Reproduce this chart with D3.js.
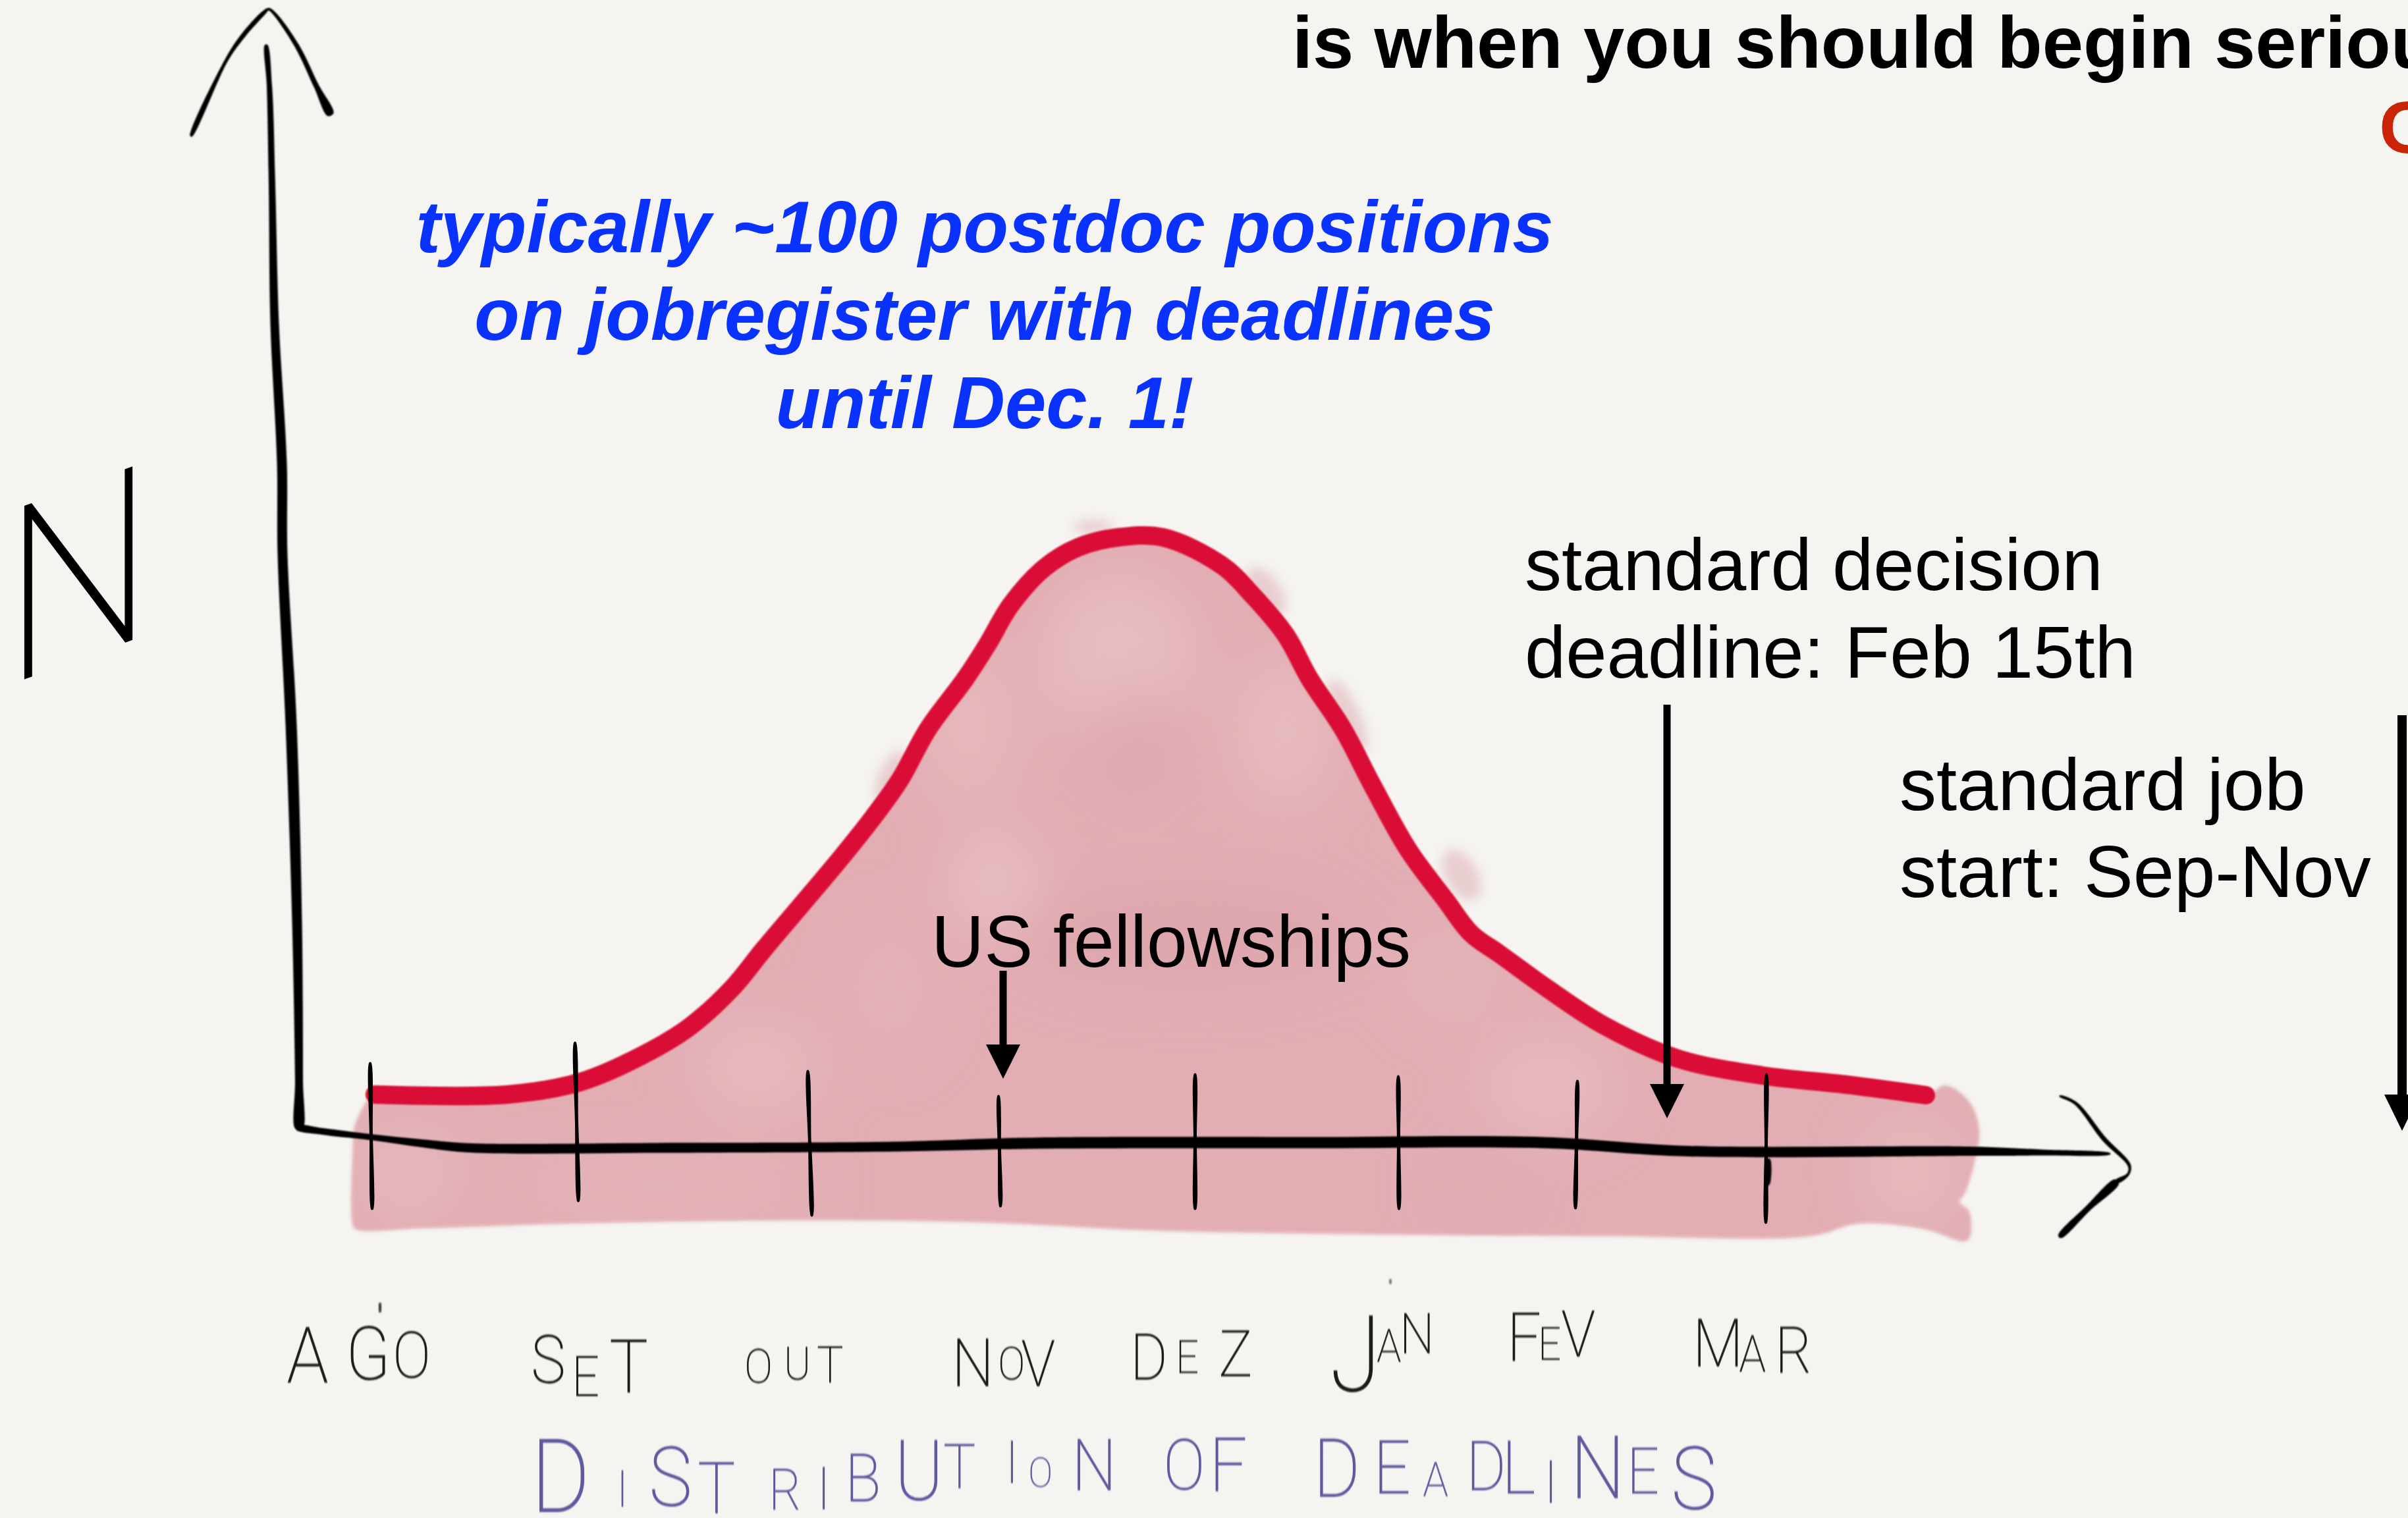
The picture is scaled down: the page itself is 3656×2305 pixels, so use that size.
<!DOCTYPE html>
<html><head><meta charset="utf-8">
<script src="https://cdn.jsdelivr.net/npm/d3@7/dist/d3.min.js"></script>
<style>html,body{margin:0;padding:0;background:#f5f4f0;overflow:hidden}svg{display:block}</style>
</head><body><div id="chart"></div>
<script>
// ---- data (x = months after August, y = N in arbitrary units) ----
const months = ["AGO","SET","OUT","NOV","DEZ","JAN","FEV","MAR"];
const monthPos = [0.01,1.05,2.23,3.19,4.18,5.21,6.11,7.07];
const tickTop = [12.7,15.8,11.5,7.7,11,10.7,10,11];
const tickBottom = [-9.7,-8.5,-10.7,-9.3,-9.7,-9.7,-9.6,-11.8];
const curveX = [0.03,0.70,1.07,1.38,1.62,1.84,2.00,2.38,2.57,2.69,2.83,3.02,3.13,3.25,3.42,3.59,3.79,4.02,4.32,4.47,4.64,4.76,4.93,5.08,5.26,5.45,5.58,5.72,5.96,6.25,6.62,7.05,7.48,7.88];
const curveN = [7.8,7.8,9.7,13.7,18.0,24.0,29.9,43.4,50.6,55.7,63.3,71,76.1,82.2,87.8,90.9,92.4,92.4,88.1,83.7,77.6,71,63.3,54.7,45,37.3,32.2,29.2,24,18.3,13.3,10.7,9.3,7.7];
const washX = [7.98,8.10,8.15,8.13,8.08,8.05,8.10,8.10,8.07,7.88,7.54,7.30,6.25,4.71,3.91,3.17,2.24,1.01,0.27,-0.07,-0.085,-0.08,-0.08,-0.04];
const washN = [9.2,6.7,2.5,-2,-7,-8.5,-10,-14,-14.5,-12.7,-11.8,-13.7,-13.7,-13.3,-12.8,-11.7,-11.3,-11.8,-12.5,-12.6,-11.5,0.7,2,5.3];
const arrowNames = ["US fellowships","standard decision deadline","standard job start"];
const arrowX = [3.21,6.57,10.29];
const arrowFrom = [26.6,67,65.4];
const arrowTo = [10.2,4.2,2.3];
const blueLines = ["typically ~100 postdoc positions","on jobregister with deadlines","until Dec. 1!"];
const decisionLines = ["standard decision","deadline: Feb 15th"];
const jobLines = ["standard job","start: Sep-Nov"];
const fellowshipLabel = "US fellowships";
const headline = "is when you should begin seriously";
const redWord = "O";
const xTitle = "DISTRIBUTION OF DEADLINES";
const yTitle = "N";

// ---- scales ----
const W = 3656, H = 2305;
const x = d3.scaleLinear().domain([0,7]).range([560,2660]);
const y = d3.scaleLinear().domain([0,100]).range([1740,740]);

const svg = d3.select("#chart").append("svg").attr("width",W).attr("height",H).attr("viewBox",`0 0 ${W} ${H}`);
svg.append("rect").attr("width",W).attr("height",H).attr("fill","#f5f4f0");
const defs = svg.append("defs");
const addBlur=(id,s)=>defs.append("filter").attr("id",id).attr("filterUnits","userSpaceOnUse")
   .attr("x",-100).attr("y",-100).attr("width",W*2).attr("height",H+200)
   .append("feGaussianBlur").attr("stdDeviation",s);
addBlur("soft",2.5); addBlur("hand",0.9); addBlur("mottle",45); addBlur("halo",8);

// tapered brush stroke from [x,y,width] points
function brush(pts){
  const n=pts.length,L=[],R=[];
  pts.forEach((p,i)=>{
    const a=pts[Math.max(i-1,0)],b=pts[Math.min(i+1,n-1)];
    let dx=b[0]-a[0],dy=b[1]-a[1];const l=Math.hypot(dx,dy)||1;dx/=l;dy/=l;
    L.push([p[0]-dy*p[2]/2,p[1]+dx*p[2]/2]);
    R.unshift([p[0]+dy*p[2]/2,p[1]-dx*p[2]/2]);
  });
  return d3.line().curve(d3.curveCatmullRomClosed.alpha(0.5))(L.concat(R));
}

// ---- watercolour wash ----
const curve = curveX.map((d,i)=>[d,curveN[i]]);
const wash = curve.concat(washX.map((d,i)=>[d,washN[i]]));
const washPath = d3.line().x(d=>x(d[0])).y(d=>y(d[1])).curve(d3.curveCatmullRomClosed.alpha(0.5))(wash);
defs.append("clipPath").attr("id","washClip").append("path").attr("d",washPath);
const halo = svg.append("g").attr("filter","url(#halo)").attr("fill","#e8cdcf");
[[1922,898,22,42,-35],[2046,1086,18,60,-25],[2219,1329,24,42,-30],[1351,1178,16,42,25],[1660,800,30,10,0]]
 .forEach(b=>halo.append("ellipse").attr("rx",b[2]).attr("ry",b[3]).attr("transform",`translate(${b[0]},${b[1]}) rotate(${b[4]})`));
const washG = svg.append("g").attr("filter","url(#soft)");
washG.append("path").attr("d",washPath).attr("fill","#e2aeb4");
const blobs = svg.append("g").attr("clip-path","url(#washClip)").append("g").attr("filter","url(#mottle)");
[[1700,1000,110,120,"#eac5c7",.7],[1720,1120,60,90,"#d99fa7",.55],[1950,1110,70,110,"#e9c0c3",.7],
 [1470,1100,70,120,"#e8bfc2",.6],[1510,1340,60,70,"#eac2c5",.9],[1800,1420,260,70,"#dca3aa",.7],
 [1150,1620,90,60,"#eac0c3",.7],[620,1780,70,60,"#e9bcc0",.8],[2350,1650,100,70,"#e9bfc3",.7],
 [2250,1800,60,60,"#dea8ae",.7],[1000,1800,240,30,"#e8b9bd",.8],[2900,1780,60,70,"#e9bfc2",.8],
 [2200,1480,60,60,"#e8bcc0",.6],[1350,1500,60,100,"#e5b6ba",.6]]
 .forEach(b=>blobs.append("ellipse").attr("cx",b[0]).attr("cy",b[1]).attr("rx",b[2]).attr("ry",b[3]).attr("fill",b[4]).attr("opacity",b[5]));

// ---- red distribution curve ----
svg.append("path").datum(curve)
  .attr("d",d3.line().x(d=>x(d[0])).y(d=>y(d[1])).curve(d3.curveCatmullRom.alpha(0.5)))
  .attr("fill","none").attr("stroke","#d90b35").attr("stroke-width",28).attr("stroke-linecap","round").attr("stroke-linejoin","round").attr("filter","url(#hand)");

// ---- axes drawn with d3.axis, restyled as pen strokes ----
const axisG = svg.append("g").attr("transform",`translate(0,${y(0)})`)
  .call(d3.axisBottom(x).tickValues(monthPos).tickFormat((d,i)=>months[i]).tickSize(0));
axisG.select(".domain").remove();
axisG.selectAll(".tick text").remove();
axisG.selectAll(".tick line").remove();
const slant=[3,5,6,3,0,1,-3,-1];
axisG.selectAll(".tick").append("path").attr("fill","#000").attr("d",(d,i)=>{
  const t=y(tickTop[i])-y(0), b=y(tickBottom[i])-y(0), s=slant[i];
  return brush([[-s/2,t,2.5],[0,(t+b)/2,5],[s/2,b-8,6],[s/2,b,2.5]]);
});
const pen = svg.append("g").attr("fill","#000").attr("filter","url(#hand)");
// y axis and its arrow head
pen.append("path").attr("d",brush([[404,68,4],[409,130,8],[413,281,10],[417,491,13],[428,702,15],[429,842,15],[442,1100,17],[451,1400,15],[454,1640,12],[454,1714,11]]));
pen.append("path").attr("d",brush([[290,207,3],[344,91,5],[370,53,7],[402,18,6],[408,14,4],[417,21,5],[451,70,7],[480,130,8],[502,174,10]]));
// x axis and its arrow head
pen.append("path").attr("d",brush([[450,1712,7],[490,1718,10],[566,1727,9],[640,1736,12],[714,1743,14],[1000,1743,15],[1362,1741,15],[1565,1736,17],[2000,1735,17],[2342,1735,17],[2564,1748,16],[2990,1748,14],[3100,1750,9],[3204,1752,2]]));
pen.append("path").attr("d",brush([[3127,1664,2],[3151,1675,5],[3195,1730,7],[3233,1770,5],[3231,1783,4],[3214,1794,6]]));
pen.append("path").attr("d",brush([[3214,1794,9],[3170,1835,9],[3127,1878,6]]));
pen.append("path").attr("d",brush([[2685,1760,5],[2684,1795,8],[2684,1800,3]]));

// ---- straight annotation arrows ----
const arrows = svg.append("g").attr("fill","#000");
arrowX.forEach((d,i)=>{
  const px=x(d), top=y(arrowFrom[i]), tip=y(arrowTo[i]), hl=i===2?55:52, hw=i===2?27:26;
  arrows.append("rect").attr("x",px-(i===2?7:5.5)).attr("width",i===2?14:11).attr("y",top).attr("height",tip-top-hl+1);
  arrows.append("path").attr("d",d3.line()([[px-hw,tip-hl],[px+hw,tip-hl],[px,tip]])+"Z");
});

// ---- typed text ----
const typed = (lines,xp,yp,opts)=>{
  const g=svg.append("text").attr("font-family","'Liberation Sans',Arial,sans-serif").attr("font-size",opts.size||112)
    .attr("fill",opts.fill||"#000").attr("text-anchor",opts.anchor||"start").attr("font-weight",opts.weight||400).attr("font-style",opts.style||"normal");
  lines.forEach((t,i)=>g.append("tspan").attr("x",xp).attr("y",yp[i]).text(t));
};
typed(blueLines,1495,[383,516,650],{fill:"#0a32ff",anchor:"middle",weight:700,style:"italic",size:112});
typed(decisionLines,2315,[896,1029],{});
typed(jobLines,2884,[1230,1362],{});
typed([fellowshipLabel],1414,[1468],{size:111});
typed([headline],1962,[103],{weight:700});
typed([redWord],3612,[232],{weight:700,fill:"#c92405"});

// ---- hand lettering: one text per label, one tspan per letter ----
const sx=0.88;
function lettered(word,spec,fill,fs,weight){
  const t=svg.append("text").attr("transform",`scale(${sx},1)`).attr("font-family","Roboto,Lato,sans-serif").attr("font-weight",weight)
    .attr("fill",fill).attr("filter","url(#hand)");
  word.split("").forEach((c,i)=>{
    if(c===" ")return;
    const s=spec.shift();
    t.append("tspan").attr("x",s[0]/sx).attr("y",s[1]).attr("font-size",s[2]/fs).text(c);
  });
}
const monthLetters={
 AGO:[[435,2100,85],[525,2095,80],[596,2092,70]],
 SET:[[806,2100,72],[868,2120,60],[925,2115,80]],
 OUT:[[1130,2100,52],[1190,2095,50],[1240,2100,55]],
 NOV:[[1445,2105,73],[1515,2095,50],[1550,2105,70]],
 DEZ:[[1716,2095,70],[1785,2085,50],[1850,2090,70]],
 JAN:[[2019,2112,115],[2090,2068,50],[2125,2055,60]],
 FEV:[[2288,2067,74],[2335,2065,50],[2370,2060,70]],
 MAR:[[2570,2075,72],[2640,2083,55],[2695,2085,70]]};
months.forEach(m=>lettered(m,monthLetters[m].slice(),"#1b1b1b",0.711,200));
lettered(xTitle,[[806,2296,111],[936,2288,55],[985,2287,90],[1059,2298,78],[1167,2292,62],[1240,2292,65],[1283,2280,73],[1358,2278,91],[1432,2260,67],[1526,2252,64],[1561,2258,45],[1627,2263,78],
 [1766,2262,77],[1836,2265,82],[1994,2273,88],[2085,2268,81],[2160,2272,52],[2226,2263,75],[2280,2268,80],[2344,2282,65],[2384,2275,95],[2470,2268,70],[2537,2292,95]],"#5f5a9e",0.711,200);
// stray pen marks
pen.append("path").attr("fill","#333").attr("d",brush([[577,1978,2],[577,1985,4],[577,1993,2]]));
pen.append("path").attr("fill","#777").attr("d",brush([[2111,1942,2],[2111,1946,4],[2111,1950,2]]));
// the big hand-written N
svg.append("text").attr("font-family","Roboto,Lato,sans-serif").attr("font-weight",100).attr("font-size",365).attr("fill","#000")
  .attr("stroke","#000").attr("stroke-width",4)
  .attr("transform","translate(8,1040) skewY(-20) scale(0.86,1)").text(yTitle);
</script></body></html>
